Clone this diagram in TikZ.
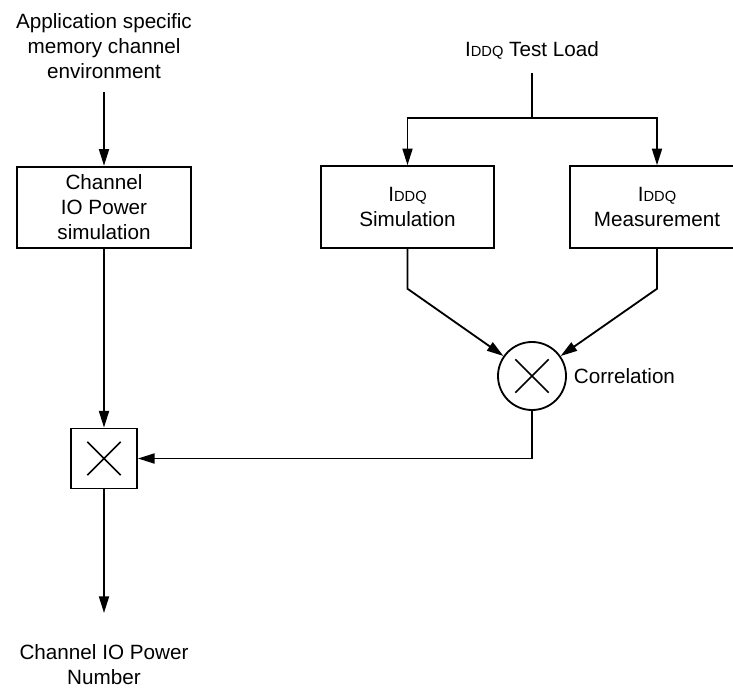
\documentclass[tikz,border=0pt]{standalone}
\usepackage{fontspec}
\setmainfont{Liberation Sans}
\usepackage{tikz}
\usetikzlibrary{positioning, arrows.meta, calc}
\newcommand{\iddq}{I{\fontsize{8.8}{10}\selectfont DDQ}}
\tikzset{
  note/.style={
    align=center,
    inner xsep=0pt,
    inner ysep=8pt
  },
  block/.style={
    draw, line width=1.1pt,
    minimum width=104pt, minimum height=49pt,
    align=center, inner sep=0pt
  },
  mixer/.style={
    draw, line width=1.1pt, inner sep=0pt,
    path picture={
      \draw[line width=0.9pt]
        ($(path picture bounding box.center)+(-10pt,-10pt)$) -- ++(20pt,20pt)
        ($(path picture bounding box.center)+(-10pt,10pt)$) -- ++(20pt,-20pt);
    }
  },
  wire/.style={line width=1.1pt},
  io/.style={-{Triangle[width=6pt,length=10pt]}, line width=1.1pt}
}
\begin{document}
\begin{tikzpicture}[x=0.6pt, y=-0.6pt, font=\fontsize{12.4}{15}\selectfont]
  \useasboundingbox (0,0) rectangle (733,688);
  % channel IO power path
  \node[note, anchor=south] (env) at (104,92) {Application specific\\memory channel\\environment};
  \node[block] (chsim) at (104,207.5) {Channel\\IO Power\\simulation};
  \node[mixer, minimum width=39.6pt, minimum height=36pt] (mult) at (104,458.5) {};
  \node[note, anchor=north, inner ysep=19pt] (result) at (104,613) {Channel IO Power\\Number};
  % IDDQ path
  \node[note, anchor=south] (load) at (532,73) {\iddq{} Test Load};
  \coordinate (split) at (532,118);
  \node[block] (iddqsim) at (407.5,207) {\iddq\\Simulation};
  \node[block] (iddqmeas) at (657,207) {\iddq\\Measurement};
  \node[mixer, circle, minimum size=40.8pt,
        label={[note, inner xsep=4pt]right:Correlation}] (corr) at (532,376) {};

  \draw[io] (env) -- (chsim);
  \draw[io] (chsim) -- (mult);
  \draw[io] (mult) -- (result);
  \draw[wire] (load) -- (split);
  \draw[io] (split) -| (iddqsim);
  \draw[io] (split) -| (iddqmeas);
  \draw[io] (iddqsim.south) -- ++(0,40) -- (corr);
  \draw[io] (iddqmeas.south) -- ++(0,40) -- (corr);
  \draw[io] (corr) |- (mult);
\end{tikzpicture}
\end{document}
